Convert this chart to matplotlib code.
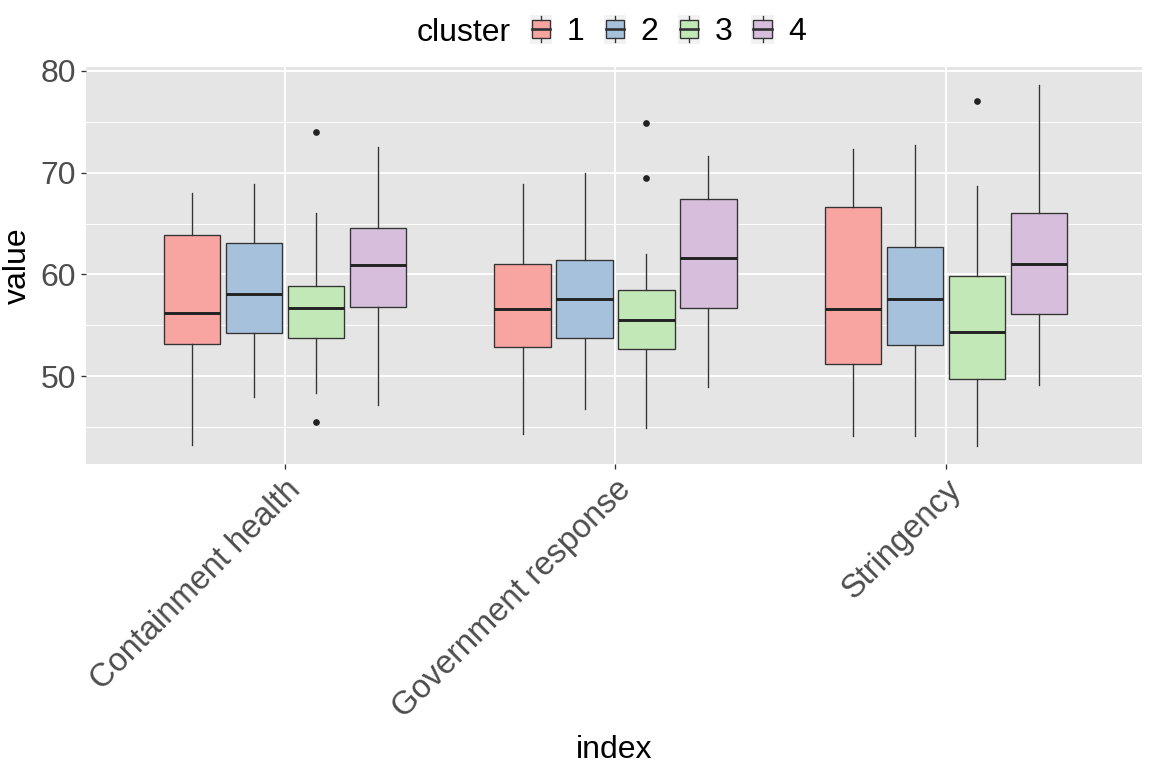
import matplotlib
matplotlib.use("Agg")
import matplotlib.pyplot as plt
from matplotlib.patches import Rectangle
from matplotlib.lines import Line2D
from matplotlib.legend_handler import HandlerBase

plt.rcParams['font.family'] = ['Liberation Sans', 'DejaVu Sans']

# data
indices = ["Containment health", "Government response", "Stringency"]
clusters = ["1", "2", "3", "4"]
colors = ["#F8A4A0", "#A6C1DC", "#C3E8B8", "#D7BEDC"]

# per index: one list per cluster
whislo = [[43.2, 47.9, 48.3, 47.2],
          [44.3, 46.8, 44.9, 48.9],
          [44.1, 44.1, 43.1, 49.1]]
q1 = [[53.2, 54.2, 53.7, 56.8],
      [52.9, 53.7, 52.7, 56.7],
      [51.2, 53.1, 49.7, 56.1]]
med = [[56.2, 58.1, 56.7, 60.9],
       [56.6, 57.6, 55.5, 61.6],
       [56.6, 57.6, 54.3, 61.0]]
q3 = [[63.9, 63.1, 58.9, 64.6],
      [61.0, 61.4, 58.5, 67.4],
      [66.6, 62.7, 59.8, 66.0]]
whishi = [[68.0, 68.9, 66.0, 72.5],
          [68.9, 70.0, 62.0, 71.6],
          [72.3, 72.7, 68.7, 78.6]]
fliers = [[[], [], [74.0, 45.5], []],
          [[], [], [74.9, 69.5], []],
          [[], [], [77.0], []]]


class BoxKey(HandlerBase):
    def create_artists(self, legend, orig, xd, yd, w, h, fs, trans):
        x0, y0 = -xd, -yd
        fc = orig.get_facecolor()
        bg = Rectangle((x0, y0), w, h, fc="#F2F2F2", ec="none", transform=trans)
        bx = Rectangle((x0 + 0.09 * w, y0 + 0.19 * h), 0.82 * w, 0.62 * h,
                       fc=fc, ec="#333333", lw=1, transform=trans)
        md = Line2D([x0 + 0.09 * w, x0 + 0.91 * w], [y0 + 0.5 * h] * 2,
                    color="#333333", lw=2, transform=trans)
        wt = Line2D([x0 + 0.5 * w] * 2, [y0 + 0.81 * h, y0 + 0.96 * h],
                    color="#333333", lw=1, transform=trans)
        wb = Line2D([x0 + 0.5 * w] * 2, [y0 + 0.04 * h, y0 + 0.19 * h],
                    color="#333333", lw=1, transform=trans)
        return [bg, bx, md, wt, wb]


fig = plt.figure(figsize=(12, 8), dpi=96)
ax = fig.add_axes([86 / 1152, 1 - 464 / 768, (1142 - 86) / 1152, (464 - 67) / 768])
ax.set_facecolor("#E5E5E5")
for s in ax.spines.values():
    s.set_visible(False)

step = 0.1875
for i in range(len(indices)):
    for j in range(len(clusters)):
        st = [dict(whislo=whislo[i][j], q1=q1[i][j], med=med[i][j],
                   q3=q3[i][j], whishi=whishi[i][j], fliers=fliers[i][j])]
        ax.bxp(st, positions=[i + (j - 1.5) * step], widths=0.17,
               showcaps=False, patch_artist=True,
               boxprops=dict(facecolor=colors[j], edgecolor="#333333", lw=1),
               medianprops=dict(color="#222222", lw=2.2),
               whiskerprops=dict(color="#333333", lw=1),
               flierprops=dict(marker="o", markerfacecolor="#222222",
                               markeredgecolor="#222222", markersize=4),
               manage_ticks=False, zorder=3)

ax.set_xlim(-0.602, 2.593)
ax.set_ylim(41.36, 80.39)
ax.set_yticks([50, 60, 70, 80])
ax.set_yticks([45, 55, 65, 75], minor=True)
ax.set_xticks(range(len(indices)))
ax.set_xticklabels(indices, rotation=45, ha="right", va="top",
                   rotation_mode="anchor", fontsize=24.5)
ax.grid(which="major", color="white", lw=1.4, zorder=0)
ax.grid(which="minor", axis="y", color="white", lw=0.7, zorder=0)
ax.set_axisbelow(True)
ax.tick_params(which="major", labelcolor="#4D4D4D",
               color="#333333", length=4, width=1)
ax.tick_params(axis="y", labelsize=24)
ax.tick_params(which="minor", length=0)
ax.set_xlabel("index", fontsize=24, labelpad=8)
ax.set_ylabel("value", fontsize=24, labelpad=6)

handles = [Rectangle((0, 0), 1, 1, fc=c) for c in colors]
fig.text(417 / 1152, 1 - 33 / 768, "cluster", fontsize=24, va="center", ha="left")
fig.legend(handles, clusters, handler_map={Rectangle: BoxKey()},
           loc="center left", bbox_to_anchor=(530 / 1152, 1 - 31 / 768),
           ncol=4, frameon=False, fontsize=24, borderpad=0, borderaxespad=0,
           handlelength=0.7, handleheight=1.0, handletextpad=0.45,
           columnspacing=0.6)

fig.savefig("out.png", dpi=96)
